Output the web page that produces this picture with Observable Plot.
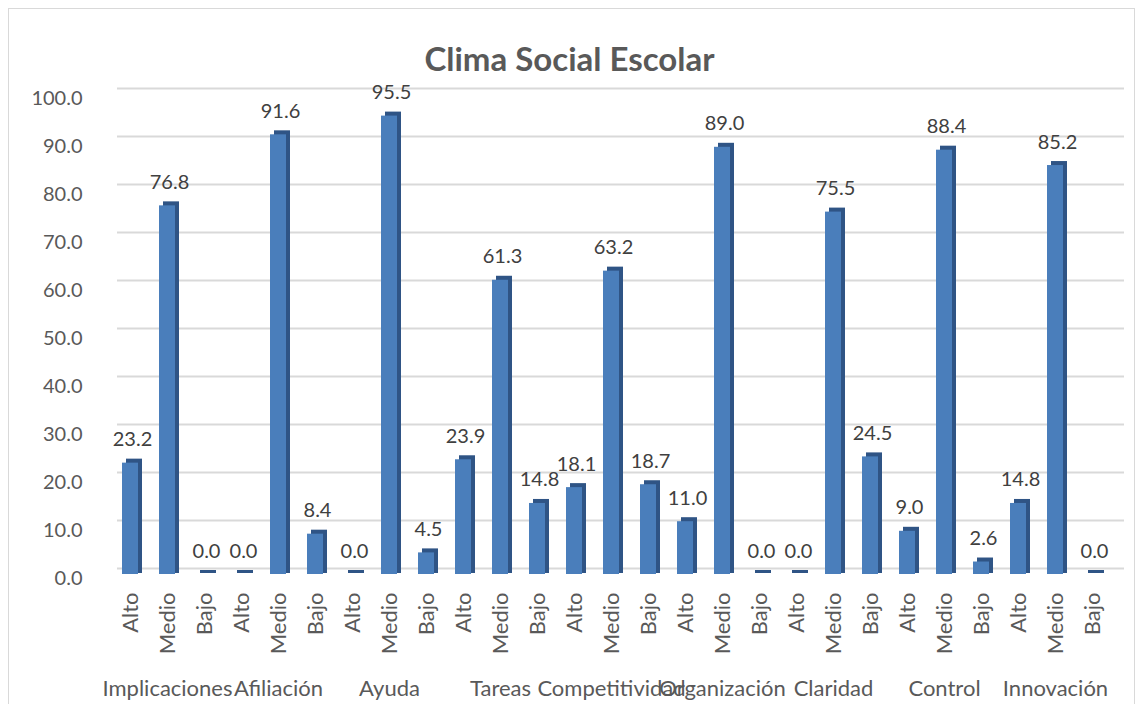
<!DOCTYPE html>
<html>
<head>
<meta charset="utf-8">
<script src="https://cdn.jsdelivr.net/npm/d3@7"></script>
<script src="https://cdn.jsdelivr.net/npm/@observablehq/plot@0.6"></script>
<style>
  body { margin: 0; background: #fff; }
  #wrap { position: relative; width: 1139px; height: 704px; overflow: hidden; font-family: Lato, "Open Sans", sans-serif; }
  #frame { position: absolute; left: 8px; top: 8px; width: 1127px; height: 710px; border: 1px solid #d9d9d9; box-sizing: border-box; }
  #title { position: absolute; left: 0; top: 38px; width: 1139px; text-align: center; font-size: 33px; line-height: 40px; font-weight: bold; color: #595959; }
  #chart { position: absolute; left: 0; top: 0; }
</style>
</head>
<body>
<div id="wrap">
  <div id="frame"></div>
  <div id="title">Clima Social Escolar</div>
  <div id="chart"></div>
</div>
<script>
const groups = ["Implicaciones","Afiliación","Ayuda","Tareas","Competitividad","Organización","Claridad","Control","Innovación"];
const levels = ["Alto","Medio","Bajo"];
const alto  = [23.2, 0.0, 0.0, 23.9, 18.1, 11.0, 0.0, 9.0, 14.8];
const medio = [76.8, 91.6, 95.5, 61.3, 63.2, 89.0, 75.5, 88.4, 85.2];
const bajo  = [0.0, 8.4, 4.5, 14.8, 18.7, 0.0, 24.5, 2.6, 0.0];
const yTicks = [0,10,20,30,40,50,60,70,80,90,100];

const series = [alto, medio, bajo];
const data = groups.flatMap((g, i) => levels.map((l, j) => ({key: g + "|" + l, group: g, level: l, value: series[j][i]})));

const chart = Plot.plot({
  width: 1139,
  height: 704,
  marginTop: 94,
  marginBottom: 130,
  marginLeft: 111,
  marginRight: 28,
  style: {fontFamily: "Lato, 'Open Sans', sans-serif", fontSize: "20px", color: "#595959", background: "transparent", overflow: "visible"},
  x: {domain: data.map(d => d.key), paddingInner: 0.56, paddingOuter: 0.22, label: null},
  y: {domain: [0, 100], label: null},
  marks: [
    Plot.ruleY(yTicks, {stroke: "#d9d9d9", strokeWidth: 2, dy: -6, insetLeft: 6, insetRight: -13}),
    Plot.axisY({ticks: yTicks, tickFormat: d => d.toFixed(1), tickSize: 0, tickPadding: 29, dy: 4, fill: "#595959", fontSize: 20, label: null}),
    Plot.axisX({tickFormat: k => k.split("|")[1], tickRotate: -90, tickSize: 0, tickPadding: 18, fill: "#595959", fontSize: 22, label: null}),
    Plot.barY(data, {x: "key", y: "value", fill: "#2f5485", dx: 4, dy: -4, insetBottom: -3}),
    Plot.barY(data, {x: "key", y: "value", fill: "#4a7ebb"}),
    Plot.text(data, {x: "key", y: "value", text: d => d.value.toFixed(1), dx: 2, dy: -17, lineAnchor: "bottom", fill: "#404040", fontSize: 20}),
    Plot.text(data.filter(d => d.level === "Medio"), {x: "key", y: 0, text: "group", dy: 114, fill: "#595959", fontSize: 22})
  ]
});
document.getElementById("chart").appendChild(chart);
</script>
</body>
</html>
